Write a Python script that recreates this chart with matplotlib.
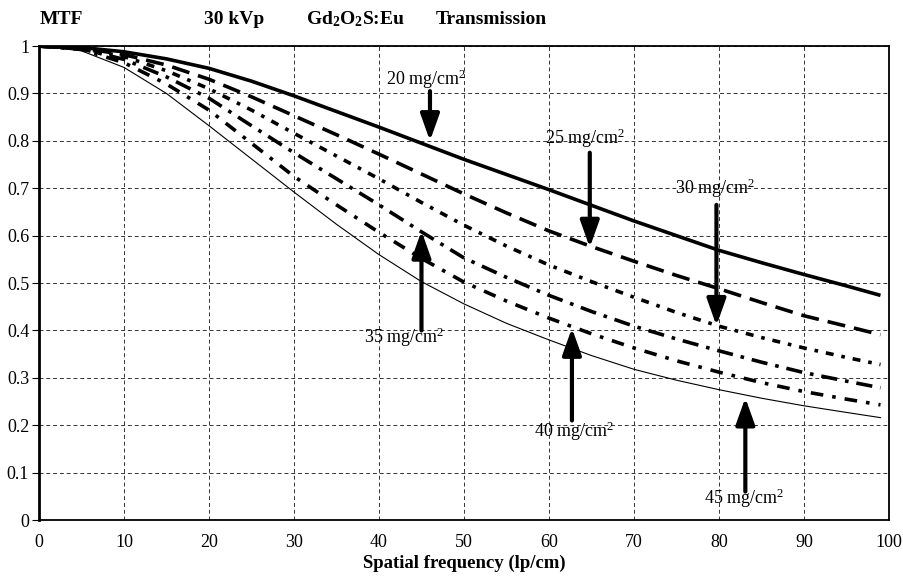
import matplotlib
matplotlib.use("Agg")
import matplotlib.pyplot as plt

# spatial frequency (lp/cm)
freq = [0, 5, 10, 15, 20, 25, 30, 35, 40, 45, 50, 55, 60, 65, 70, 75, 80, 85, 90, 95, 99]

# MTF values per coating thickness
mtf_20 = [1.0, 0.997, 0.988, 0.973, 0.953, 0.926, 0.895, 0.862, 0.829, 0.795, 0.761,
          0.729, 0.697, 0.664, 0.631, 0.600, 0.569, 0.543, 0.518, 0.494, 0.474]
mtf_25 = [1.0, 0.996, 0.982, 0.960, 0.930, 0.893, 0.853, 0.813, 0.772, 0.730, 0.688,
          0.648, 0.610, 0.577, 0.546, 0.516, 0.488, 0.459, 0.431, 0.409, 0.391]
mtf_30 = [1.0, 0.995, 0.978, 0.948, 0.910, 0.865, 0.816, 0.768, 0.720, 0.670, 0.622,
          0.578, 0.538, 0.503, 0.470, 0.438, 0.409, 0.385, 0.363, 0.343, 0.328]
mtf_35 = [1.0, 0.994, 0.972, 0.935, 0.890, 0.832, 0.775, 0.720, 0.665, 0.608, 0.553,
          0.512, 0.474, 0.440, 0.409, 0.382, 0.357, 0.333, 0.311, 0.293, 0.279]
mtf_40 = [1.0, 0.993, 0.965, 0.920, 0.865, 0.795, 0.725, 0.665, 0.607, 0.552, 0.502,
          0.462, 0.426, 0.393, 0.363, 0.336, 0.312, 0.290, 0.271, 0.255, 0.243]
mtf_45 = [1.0, 0.990, 0.955, 0.900, 0.832, 0.762, 0.692, 0.624, 0.560, 0.503, 0.456,
          0.415, 0.380, 0.347, 0.318, 0.295, 0.275, 0.257, 0.241, 0.227, 0.216]

# annotations: label, arrow x, arrow tail y, arrow tip y, text x, text y
labels = ["20 mg/cm$^2$", "25 mg/cm$^2$", "30 mg/cm$^2$",
          "35 mg/cm$^2$", "40 mg/cm$^2$", "45 mg/cm$^2$"]
arrow_x = [46.0, 64.8, 79.7, 45.0, 62.7, 83.1]
arrow_tail = [0.905, 0.775, 0.665, 0.40, 0.21, 0.06]
arrow_tip = [0.80, 0.575, 0.41, 0.61, 0.405, 0.258]
text_x = [45.5, 64.2, 79.5, 43.0, 63.0, 83.0]
text_y = [0.93, 0.805, 0.70, 0.385, 0.188, 0.045]

plt.rcParams["font.family"] = ["Liberation Serif", "DejaVu Serif"]
plt.rcParams["mathtext.default"] = "regular"

fig = plt.figure(figsize=(9.04, 5.76), dpi=100)
ax = fig.add_axes([0.0431, 0.0972, 0.9403, 0.8228])

ax.plot(freq, mtf_20, color="black", lw=2.6, solid_capstyle="butt")
ax.plot(freq, mtf_25, color="black", lw=2.6, linestyle=(0, (5, 2.5)))
ax.plot(freq, mtf_30, color="black", lw=2.6, linestyle=(0, (2.2, 2.2, 1, 2.2)))
ax.plot(freq, mtf_35, color="black", lw=2.6, linestyle=(0, (4.5, 2.2, 1, 2.2)))
ax.plot(freq, mtf_40, color="black", lw=2.6, linestyle=(0, (3.5, 2.5, 1, 2.5)))
ax.plot(freq, mtf_45, color="black", lw=0.8)

for lab, ax_x, t0, t1, tx, ty in zip(labels, arrow_x, arrow_tail, arrow_tip, text_x, text_y):
    ax.annotate("", xy=(ax_x, t1), xytext=(ax_x, t0),
                arrowprops=dict(arrowstyle="-|>,head_length=0.9,head_width=0.32",
                                mutation_scale=18, lw=3, color="black",
                                shrinkA=0, shrinkB=0))
    ax.text(tx, ty, lab, fontsize=13, ha="center", va="center")

ax.set_xlim(0, 100)
ax.set_ylim(0, 1)
ax.set_xticks(range(0, 101, 10))
ax.set_yticks([i / 10 for i in range(11)])
ax.set_yticklabels(["0", "0.1", "0.2", "0.3", "0.4", "0.5", "0.6", "0.7", "0.8", "0.9", "1"])
ax.grid(True, color="#333333", linestyle=(0, (4, 3)), lw=0.7)
ax.tick_params(axis="x", length=0, pad=10, labelsize=13)
ax.tick_params(axis="y", length=5, width=0.8, pad=2, labelsize=13)
for sp in ax.spines.values():
    sp.set_linewidth(1.3)
ax.spines["left"].set_linewidth(2)

ax.set_xlabel("Spatial frequency (lp/cm)", fontsize=13.5, fontweight="bold", labelpad=3)

fig.text(0.044, 0.967, "MTF", fontsize=14, fontweight="bold", va="center")
fig.text(0.226, 0.967, "30 kVp", fontsize=14, fontweight="bold", va="center")
fig.text(0.339, 0.967, "Gd$_2$O$_2$S:Eu", fontsize=14, fontweight="bold", va="center")
fig.text(0.482, 0.967, "Transmission", fontsize=14, fontweight="bold", va="center")

fig.savefig("out.png", dpi=100)
